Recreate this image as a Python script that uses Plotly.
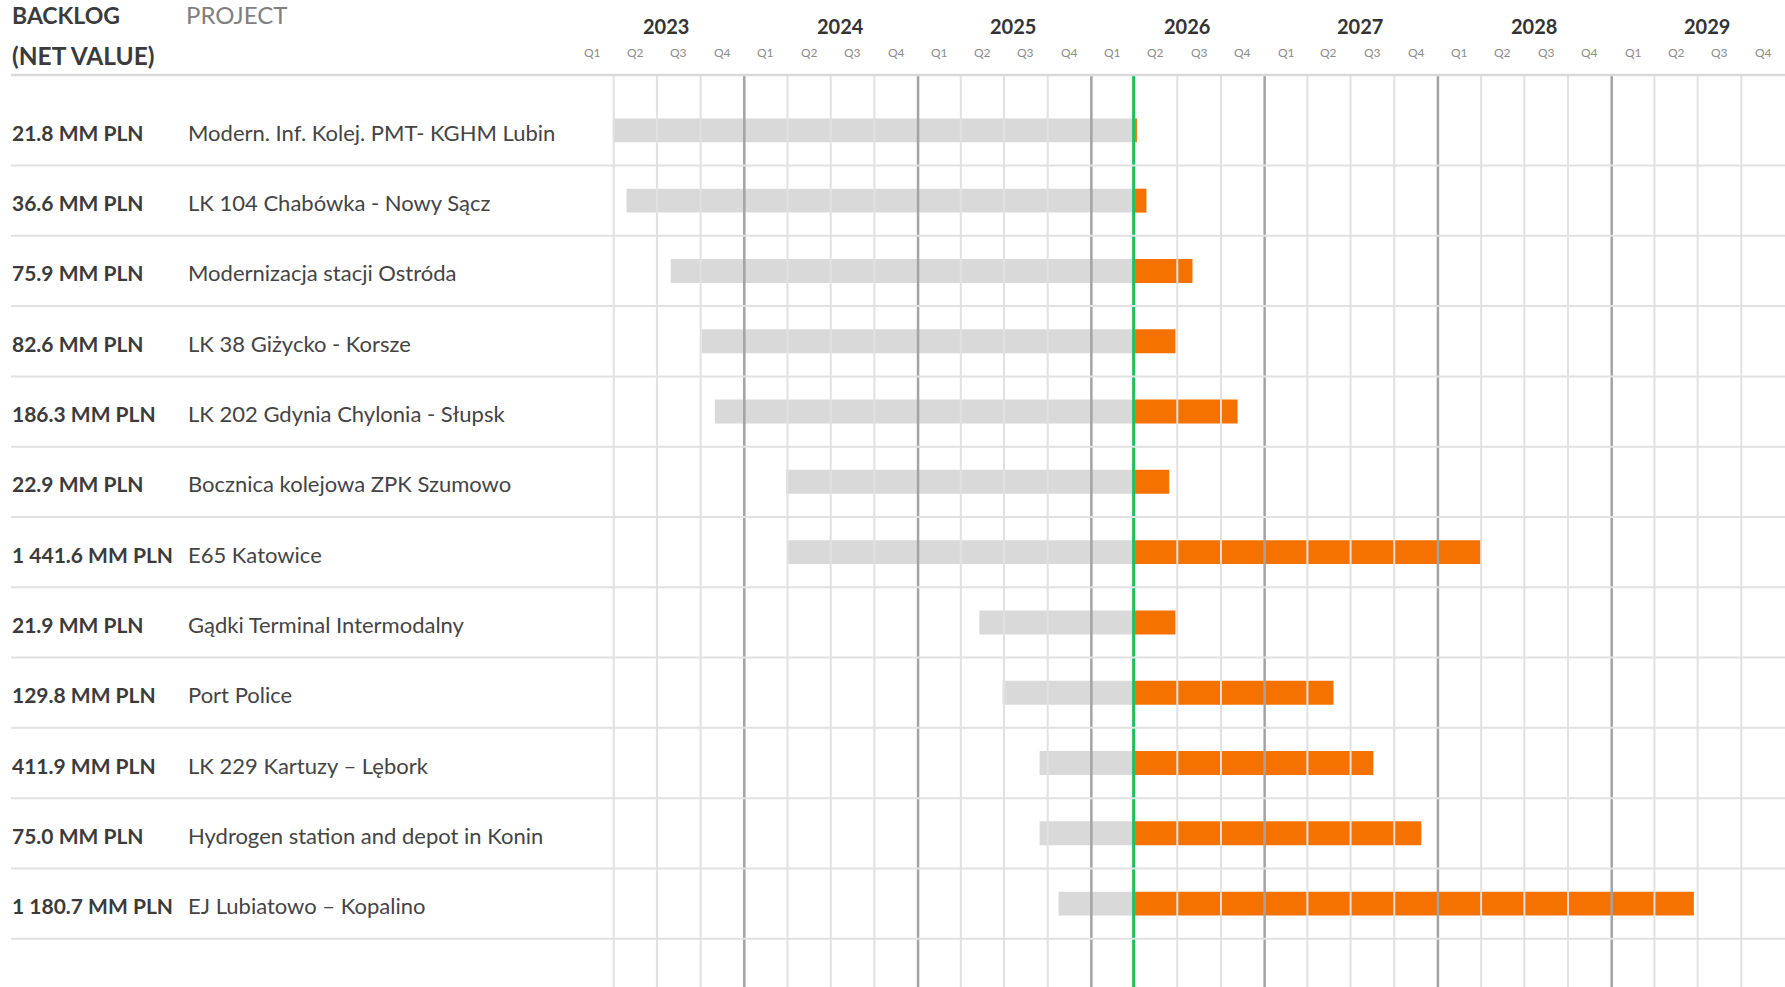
import pandas as pd
import plotly.graph_objects as go

# ---- data -------------------------------------------------------------
backlog = [
    "21.8 MM PLN", "36.6 MM PLN", "75.9 MM PLN", "82.6 MM PLN",
    "186.3 MM PLN", "22.9 MM PLN", "1 441.6 MM PLN", "21.9 MM PLN",
    "129.8 MM PLN", "411.9 MM PLN", "75.0 MM PLN", "1 180.7 MM PLN",
]
projects = [
    "Modern. Inf. Kolej. PMT- KGHM Lubin",
    "LK 104 Chabówka - Nowy Sącz",
    "Modernizacja stacji Ostróda",
    "LK 38 Giżycko - Korsze",
    "LK 202 Gdynia Chylonia - Słupsk",
    "Bocznica kolejowa ZPK Szumowo",
    "E65 Katowice",
    "Gądki Terminal Intermodalny",
    "Port Police",
    "LK 229 Kartuzy – Lębork",
    "Hydrogen station and depot in Konin",
    "EJ Lubiatowo – Kopalino",
]
start_dates = [
    "2023-03-30", "2023-04-28", "2023-07-30", "2023-10-03",
    "2023-10-31", "2024-03-29", "2024-04-02", "2025-05-10",
    "2025-06-28", "2025-09-14", "2025-09-14", "2025-10-24",
]
end_dates = [
    "2026-04-07", "2026-04-27", "2026-08-02", "2026-06-27",
    "2026-11-05", "2026-06-14", "2028-04-01", "2026-06-27",
    "2027-05-26", "2027-08-18", "2027-11-27", "2029-06-23",
]
status_date = "2026-03-31"
years = [2023, 2024, 2025, 2026, 2027, 2028, 2029]
quarter_labels = ["Q1", "Q2", "Q3", "Q4"]

# ---- geometry helpers -------------------------------------------------
FIG_W, FIG_H = 1785, 987
M_L, M_T = 571, 75
PLOT_W = FIG_W - M_L
PLOT_H = FIG_H - M_T


def paper_x(px):
    return (px - M_L) / PLOT_W


def paper_y(py):
    return (FIG_H - py) / PLOT_H


TEXT = "#3b3b3b"
LIGHT_GRID = "#e1e1e1"
YEAR_GRID = "#a3a3a3"
GREEN = "#22c05a"
GREY_BAR = "#d9d9d9"
ORANGE = "#f57100"
FONT = "Lato"

rows = list(range(len(projects)))
t0 = pd.Timestamp(status_date)
done_ms = [(t0 - pd.Timestamp(s)).total_seconds() * 1000 for s in start_dates]
left_ms = [(pd.Timestamp(e) - t0).total_seconds() * 1000 for e in end_dates]

fig = go.Figure()
fig.add_bar(
    y=rows, x=done_ms, base=start_dates, orientation="h", width=0.34,
    marker=dict(color=GREY_BAR, line=dict(width=0)), hoverinfo="skip",
)
fig.add_bar(
    y=rows, x=left_ms, base=[status_date] * len(rows), orientation="h", width=0.34,
    marker=dict(color=ORANGE, line=dict(width=0)), hoverinfo="skip",
)

shapes = []
annotations = []

# quarter and year gridlines, drawn over the bars
for y in years:
    for qi in range(4):
        q_start = pd.Timestamp(year=y, month=1 + 3 * qi, day=1)
        q_end = pd.Timestamp(year=y + (qi == 3), month=1 if qi == 3 else 4 + 3 * qi, day=1)
        if not (y == years[0] and qi == 0):
            shapes.append(dict(
                type="line", xref="x", yref="paper",
                x0=q_start.strftime("%Y-%m-%d"), x1=q_start.strftime("%Y-%m-%d"), y0=0, y1=1,
                line=dict(color=YEAR_GRID if qi == 0 else LIGHT_GRID, width=2.5 if qi == 0 else 2),
                layer="above",
            ))
        mid = q_start + (q_end - q_start) / 2
        annotations.append(dict(
            xref="x", yref="paper", x=mid.strftime("%Y-%m-%d %H:%M"), y=paper_y(53),
            text=quarter_labels[qi], showarrow=False, xanchor="center", yanchor="middle",
            font=dict(family=FONT, size=12, color="#8c8c8c"),
        ))
    annotations.append(dict(
        xref="x", yref="paper", x=f"{y}-07-02", y=paper_y(26), xshift=9,
        text=str(y), showarrow=False, xanchor="center", yanchor="middle",
        font=dict(family=FONT, size=20, color="#333333", weight=700),
    ))

# status-date marker
shapes.append(dict(
    type="line", xref="x", yref="paper", x0=status_date, x1=status_date, y0=0, y1=1,
    line=dict(color=GREEN, width=3), layer="above",
))

# row separators and header rule
for i in rows:
    shapes.append(dict(
        type="line", xref="paper", yref="y", x0=paper_x(11), x1=1.0, y0=i + 0.5, y1=i + 0.5,
        line=dict(color=LIGHT_GRID, width=2), layer="above",
    ))
shapes.append(dict(
    type="line", xref="paper", yref="paper", x0=paper_x(11), x1=1.0, y0=1, y1=1,
    line=dict(color="#d9d9d9", width=2.5), layer="above",
))

# row labels
for i in rows:
    annotations.append(dict(
        xref="paper", yref="y", x=paper_x(10), y=i, yshift=-2,
        text=backlog[i], showarrow=False, xanchor="left", yanchor="middle",
        font=dict(family=FONT, size=21, color=TEXT, weight=700),
    ))
    annotations.append(dict(
        xref="paper", yref="y", x=paper_x(186), y=i, yshift=-2,
        text=projects[i], showarrow=False, xanchor="left", yanchor="middle",
        font=dict(family=FONT, size=22, color="#444444"),
    ))

# column headers
annotations += [
    dict(xref="paper", yref="paper", x=paper_x(10), y=paper_y(15), text="BACKLOG",
         showarrow=False, xanchor="left", yanchor="middle",
         font=dict(family=FONT, size=23, color=TEXT, weight=700)),
    dict(xref="paper", yref="paper", x=paper_x(10), y=paper_y(55), text="(NET VALUE)",
         showarrow=False, xanchor="left", yanchor="middle",
         font=dict(family=FONT, size=24.5, color=TEXT, weight=700)),
    dict(xref="paper", yref="paper", x=paper_x(184), y=paper_y(15), text="PROJECT",
         showarrow=False, xanchor="left", yanchor="middle",
         font=dict(family=FONT, size=24, color="#808080")),
]

fig.update_layout(
    width=FIG_W, height=FIG_H,
    margin=dict(l=M_L, r=0, t=M_T, b=0, pad=0),
    paper_bgcolor="white", plot_bgcolor="white",
    barmode="overlay", showlegend=False,
    shapes=shapes, annotations=annotations,
    xaxis=dict(type="date", range=["2023-01-01", "2030-01-01"], showgrid=False,
               zeroline=False, showline=False, showticklabels=False, ticks=""),
    yaxis=dict(range=[12.186, -0.787], showgrid=False, zeroline=False,
               showline=False, showticklabels=False, ticks=""),
)

fig.write_html("out.html")
